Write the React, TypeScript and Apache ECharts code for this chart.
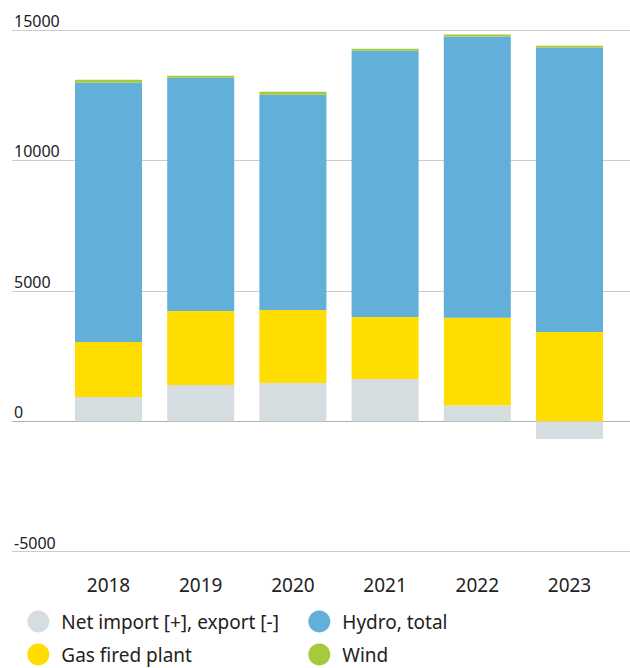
import React, { useEffect, useRef } from "react";
import * as echarts from "echarts";

const years = ["2018", "2019", "2020", "2021", "2022", "2023"];
const netImport = [930, 1390, 1470, 1620, 600, -680];
const gasFired = [2110, 2840, 2800, 2380, 3365, 3427];
const hydroTotal = [9940, 8940, 8250, 10207, 10782, 10897];
const wind = [115, 77, 115, 77, 77, 77];

const seriesNames = ["Net import [+], export [-]", "Gas fired plant", "Hydro, total", "Wind"];
const seriesColors = ["#d5dde1", "#ffdd00", "#62afda", "#a6ca3b"];
const seriesData = [netImport, gasFired, hydroTotal, wind];

const yMin = -5000;
const yMax = 15000;
const yStep = 5000;

export default function App() {
  const ref = useRef<HTMLDivElement>(null);
  useEffect(() => {
    if (!ref.current) return;
    const chart = echarts.init(ref.current, null, { renderer: "svg" });
    const font = "'Noto Sans', sans-serif";
    const gridTop = 30;
    const gridBottom = 116.3;
    const legendCommon = {
      orient: "vertical",
      top: 610.5,
      padding: 0,
      itemWidth: 22,
      itemHeight: 22,
      itemGap: 11,
      icon: "circle",
      textStyle: { fontSize: 19, lineHeight: 20, color: "#222222", fontFamily: font, padding: [0, 0, 0, 7] },
    };
    chart.setOption({
      animation: false,
      backgroundColor: "#ffffff",
      textStyle: { fontFamily: font },
      grid: [
        { left: 12, right: 0, top: gridTop, bottom: gridBottom },
        { left: 62.4, right: 14.4, top: gridTop, bottom: gridBottom },
      ],
      xAxis: [
        { type: "value", gridIndex: 0, min: 0, max: 1, show: false },
        {
          type: "category",
          gridIndex: 1,
          data: years,
          position: "bottom",
          axisLine: { show: false, onZero: false },
          axisTick: { show: false },
          axisLabel: { fontSize: 19, color: "#222222", margin: 24, fontFamily: font },
        },
      ],
      yAxis: [
        {
          type: "value",
          gridIndex: 0,
          min: yMin,
          max: yMax,
          interval: yStep,
          axisLine: { show: false },
          axisTick: { show: false },
          axisLabel: {
            inside: true,
            margin: 2,
            align: "left",
            verticalAlign: "bottom",
            fontSize: 16,
            lineHeight: 16,
            padding: [0, 0, 1, 0],
            color: "#222222",
            fontFamily: font,
            formatter: (v: number) => String(v),
          },
          splitLine: {
            show: true,
            lineStyle: { color: ["#cccccc", "#b0b0b0", "#cccccc", "#cccccc", "#cccccc"], width: 1 },
          },
        },
        {
          type: "value",
          gridIndex: 1,
          min: yMin,
          max: yMax,
          interval: yStep,
          show: false,
          splitLine: { show: false },
        },
      ],
      legend: [
        { ...legendCommon, left: 27.3, data: [seriesNames[0], seriesNames[1]] },
        { ...legendCommon, left: 308.3, data: [seriesNames[2], seriesNames[3]] },
      ],
      series: seriesNames.map((name, i) => ({
        name,
        type: "bar",
        stack: "total",
        xAxisIndex: 1,
        yAxisIndex: 1,
        barWidth: 67,
        itemStyle: { color: seriesColors[i] },
        data: seriesData[i],
      })),
    });
    return () => chart.dispose();
  }, []);
  return (
    <div
      ref={ref}
      style={{ position: "fixed", left: 0, top: 0, width: 630, height: 668 }}
    />
  );
}
